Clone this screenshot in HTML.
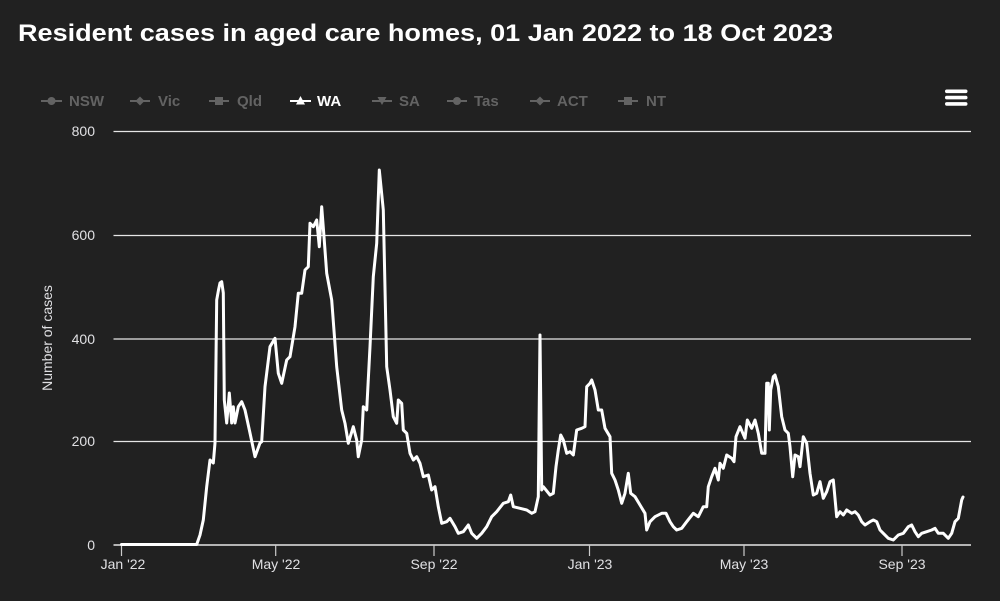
<!DOCTYPE html>
<html>
<head>
<meta charset="utf-8">
<style>
html,body{margin:0;padding:0;background:#212121;}
body{width:1000px;height:601px;overflow:hidden;}
svg{display:block;}
text{font-family:"Liberation Sans",sans-serif;}
</style>
</head>
<body>
<svg width="1000" height="601" viewBox="0 0 1000 601" xmlns="http://www.w3.org/2000/svg">
<rect width="1000" height="601" fill="#212121"/>
<!-- Title -->
<text x="18" y="41" fill="#ffffff" font-size="24" font-weight="bold" textLength="815" lengthAdjust="spacingAndGlyphs">Resident cases in aged care homes, 01 Jan 2022 to 18 Oct 2023</text>

<!-- Legend -->
<g fill="#636363" stroke="#636363" font-size="15" font-weight="600">
  <line x1="41" y1="101" x2="62" y2="101" stroke-width="2"/><circle cx="51.5" cy="101" r="4" stroke="none"/>
  <text x="69" y="106" stroke="none">NSW</text>
  <line x1="130" y1="101" x2="150" y2="101" stroke-width="2"/><polygon points="140,96.5 144.5,101 140,105.5 135.5,101" stroke="none"/>
  <text x="158" y="106" stroke="none">Vic</text>
  <line x1="209" y1="101" x2="229" y2="101" stroke-width="2"/><rect x="215" y="97" width="8" height="8" stroke="none"/>
  <text x="237" y="106" stroke="none">Qld</text>
  <line x1="372" y1="101" x2="392" y2="101" stroke-width="2"/><polygon points="377.5,97 386.5,97 382,105" stroke="none"/>
  <text x="399" y="106" stroke="none">SA</text>
  <line x1="447" y1="101" x2="467" y2="101" stroke-width="2"/><circle cx="457" cy="101" r="4" stroke="none"/>
  <text x="474" y="106" stroke="none">Tas</text>
  <line x1="530" y1="101" x2="550" y2="101" stroke-width="2"/><polygon points="540,96.5 544.5,101 540,105.5 535.5,101" stroke="none"/>
  <text x="557" y="106" stroke="none">ACT</text>
  <line x1="618" y1="101" x2="638" y2="101" stroke-width="2"/><rect x="624" y="97" width="8" height="8" stroke="none"/>
  <text x="646" y="106" stroke="none">NT</text>
</g>
<g fill="#ffffff" stroke="#ffffff">
  <line x1="290" y1="101" x2="311" y2="101" stroke-width="2"/><polygon points="300.5,96 305,104.5 296,104.5" stroke="none"/>
  <text x="317" y="106" stroke="none" font-size="15" font-weight="bold">WA</text>
</g>

<!-- Menu icon -->
<g fill="#ffffff">
  <rect x="945" y="89.5" width="22.5" height="3.6" rx="1.8"/>
  <rect x="945" y="95.8" width="22.5" height="3.6" rx="1.8"/>
  <rect x="945" y="102.1" width="22.5" height="3.6" rx="1.8"/>
</g>

<!-- Grid lines -->
<g stroke="#e6e6e6" stroke-width="1.2">
  <line x1="113.5" y1="131.5" x2="971" y2="131.5"/>
  <line x1="113.5" y1="235.5" x2="971" y2="235.5"/>
  <line x1="113.5" y1="339" x2="971" y2="339"/>
  <line x1="113.5" y1="441.5" x2="971" y2="441.5"/>
</g>
<!-- X axis -->
<line x1="113.5" y1="545" x2="971" y2="545" stroke="#e6e6e6" stroke-width="1.6"/>
<g stroke="#cccccc" stroke-width="1.2">
  <line x1="121.5" y1="545" x2="121.5" y2="556"/>
  <line x1="275.7" y1="545" x2="275.7" y2="556"/>
  <line x1="434" y1="545" x2="434" y2="556"/>
  <line x1="589.5" y1="545" x2="589.5" y2="556"/>
  <line x1="744" y1="545" x2="744" y2="556"/>
  <line x1="902" y1="545" x2="902" y2="556"/>
</g>

<!-- Y labels -->
<g fill="#e0e0e3" font-size="14" text-anchor="end">
  <text x="95" y="136">800</text>
  <text x="95" y="240">600</text>
  <text x="95" y="344">400</text>
  <text x="95" y="446">200</text>
  <text x="95" y="550">0</text>
</g>
<text x="0" y="0" fill="#e0e0e3" font-size="14" text-anchor="middle" transform="translate(52,338) rotate(-90)">Number of cases</text>

<!-- X labels -->
<g fill="#e0e0e3" font-size="14" text-anchor="middle">
  <text x="123" y="569">Jan '22</text>
  <text x="276" y="569">May '22</text>
  <text x="434" y="569">Sep '22</text>
  <text x="590" y="569">Jan '23</text>
  <text x="744" y="569">May '23</text>
  <text x="902" y="569">Sep '23</text>
</g>

<!-- Data series -->
<polyline fill="none" stroke="#ffffff" stroke-width="3" stroke-linejoin="round" stroke-linecap="round"
points="121.5,544.5 196.7,544.5 200,535 203.3,520 206.7,486.7 210,460 213.3,463 215,443 216.7,300 218.5,290 220,283 221.7,281.7 223.3,293 224.3,400 226.7,423 229.3,393 231.7,423 233.3,406.7 235,423 238.3,406.7 241.7,401.7 245,410 250,433 255,456.7 260,443 261.7,441.7 265,386.7 270,346.7 275,338.3 278.3,373.3 281.7,383.3 286.7,360 290,356.7 295,326.7 298.3,293.3 301.7,293.3 305,270 308.3,266.7 310,223.3 313.3,226.7 316.7,220 319.3,246.7 321.7,206.7 324,236.7 326.7,273.3 331.7,300 336.7,366.7 341.7,410 345,423.3 348.3,443.3 353.3,426.7 356.7,440 358.3,456.7 361.7,440 363.3,406.7 366.7,410 370,346.7 373.3,276.7 376.7,243.3 379.3,170 383.3,210 386.7,366.7 390,390 393.3,416.7 396.7,423.3 398.3,400 401.7,403.3 403.3,430 406.7,433.3 410,453.3 413.3,460 416.7,456.7 420,463.3 423.3,476.7 428.3,475 431.7,490 435,486.7 438.3,506.7 441.7,523.3 446.7,521.7 450,518.3 455,526.7 458.3,533.3 463.3,531.7 468.3,525 471.7,533.3 476.7,538.3 481.7,533.3 486.7,526.7 491.7,516.7 496.7,511.7 503.3,503.3 508.3,501.7 510.7,495 513.3,506.7 520,508.3 526.7,510 531.7,513.3 535,511.7 538.3,496.7 540,335 541.7,490 543.3,486.7 550,495 553.3,493.3 556,466.7 558.3,450 560.7,435 563.3,440 566.7,453.3 570,451.7 573.3,455 576.7,430 581.7,428.3 585,426.7 586.7,386.7 590,383.3 591.7,380 595,390 598.3,410 601.7,410 605,428.3 610,436.7 611.7,473.3 615,480 618.3,490 621.7,503.3 625,493.3 628.3,473.3 630.7,493.3 635,496.7 640,505 645,513.3 646.7,530 650,521.7 655,516.7 661.7,513.3 666,513.3 670,521.7 673.3,526.7 676.7,530 681.7,528.3 686.7,521.7 693.3,513.3 698.3,516.7 703.3,506.7 706.7,506.7 708.3,486.7 711.7,476.7 715,468.3 718.3,480 720,463.3 723.3,468.3 726.7,455 731.7,458.3 734,461.7 736,436.7 740,426.7 745,438.3 747.3,420 751.7,428.3 755,420 758.3,433.3 761.7,453.3 765,453.3 766.7,383.3 768.3,383.3 769.3,430 770.7,390 773.3,376.7 775,375 778.3,386.7 781.7,416.7 785,430 788.3,433.3 790,446.7 792.7,476.7 795,455 798.3,456.7 800,466.7 803.3,436.7 806.7,443.3 810,473.3 813.3,495 816.7,493.3 820,481.7 823.3,498.3 826.7,491.7 830,481.7 833.3,480 836.7,516.7 840,511.7 843.3,515 846.7,510 851.7,513.3 855,511.7 858.3,515 861.7,521.7 865,525 870,521.7 873.3,520 876.7,521.7 880,530 883.3,533.3 888.3,538.3 893.3,540 898.3,535 903.3,533.3 908.3,526.7 911.7,525 915,531.7 918.3,536.7 921.7,533.3 926.7,531.7 931.7,530 935,528.3 938.3,533.3 943.3,533.3 948.3,538.3 951.7,533.3 955,521.7 958.3,518.3 961.7,500 963,497"/>
</svg>
</body>
</html>
